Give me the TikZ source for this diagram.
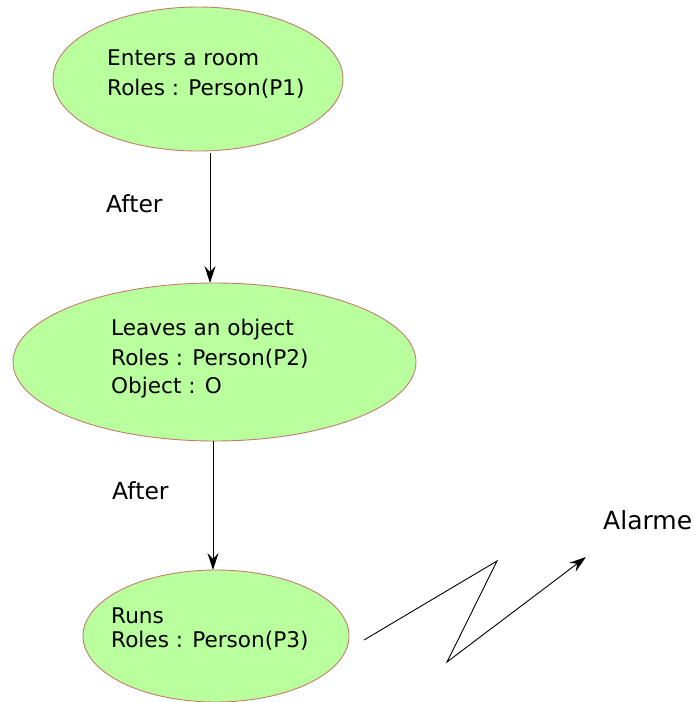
\documentclass[tikz,border=0pt]{standalone}
\usepackage{fontspec}
\setmainfont{DejaVu Sans}
\usetikzlibrary{shapes.geometric,arrows.meta}
\definecolor{evfill}{RGB}{185,255,158}
\definecolor{evline}{RGB}{195,125,110}
\tikzset{
  event/.style={ellipse, draw=evline, fill=evfill, line width=0.9pt, inner sep=0pt},
  evtext/.style={anchor=base west, inner sep=0pt, font=\fontsize{21.6}{24}\selectfont},
  lbl/.style={anchor=base west, inner sep=0pt, font=\fontsize{23.5}{26}\selectfont},
  link/.style={draw=black, line width=0.9pt, -{Stealth[length=17pt,width=11pt,inset=6pt]}},
}
\begin{document}
\begin{tikzpicture}[x=1pt,y=-1pt]
\useasboundingbox (0,0) rectangle (695,702);

% event ellipses
\node[event, minimum width=290, minimum height=144] (e1) at (198,79) {};
\node[event, minimum width=403, minimum height=158] (e2) at (214.5,362) {};
\node[event, minimum width=266, minimum height=132] (e3) at (216,636) {};

% event descriptions
\node[evtext] (t1a) at (107,65) {Enters a room};
\node[evtext] (t1b) at (107,95) {Roles : Person(P1)};
\node[evtext] (t2a) at (111,335) {Leaves an object};
\node[evtext] (t2b) at (111,365) {Roles : Person(P2)};
\node[evtext] (t2c) at (111,393) {Object : O};
\node[evtext] (t3a) at (111,623) {Runs};
\node[evtext] (t3b) at (111,647) {Roles : Person(P3)};

% temporal relations
\coordinate (a1s) at (210,153);
\coordinate (a1e) at (210,283);
\coordinate (a2s) at (213,441);
\coordinate (a2e) at (213,570);
\draw[link] (a1s) -- (a1e);
\draw[link] (a2s) -- (a2e);
\node[lbl] (after1) at (106,212) {After};
\node[lbl] (after2) at (112,499) {After};

% alarm signal
\coordinate (z0) at (364,640);
\coordinate (z1) at (497,561);
\coordinate (z2) at (447,662);
\coordinate (z3) at (586,557);
\draw[link] (z0) -- (z1) -- (z2) -- (z3);
\node[lbl, font=\fontsize{25}{28}\selectfont] (alarm) at (603,529) {Alarme};
\end{tikzpicture}
\end{document}
